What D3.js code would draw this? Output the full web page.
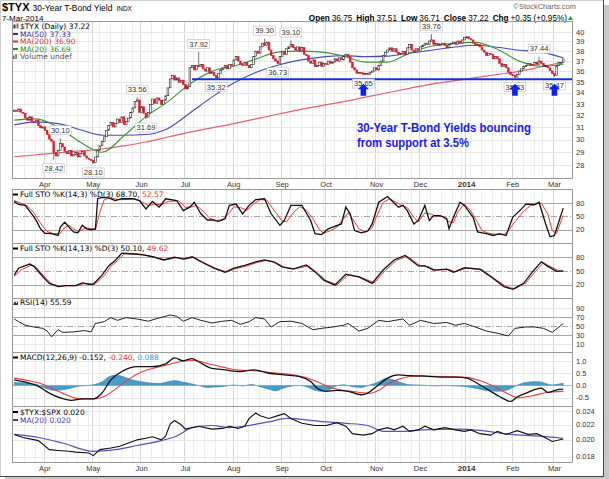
<!DOCTYPE html>
<html>
<head>
<meta charset="utf-8">
<script src="https://cdn.jsdelivr.net/npm/d3@7/dist/d3.min.js"></script>
<style>
body { margin: 0; background: #fff; }
svg { display: block; font-family: "Liberation Sans", Arial, sans-serif; }
.leg { font-family: "DejaVu Sans", Verdana, sans-serif; font-size: 7.5px; }
.tick { font-size: 7.5px; fill: #333; }
</style>
</head>
<body>
<svg id="chart" width="609" height="479"></svg>
<script>

// trading calendar (NYSE holidays skipped)
var holidays = ["2013-03-29", "2013-05-27", "2013-07-04", "2013-09-02", "2013-11-28",
                "2013-12-25", "2014-01-01", "2014-01-20", "2014-02-17"];

// $TYX daily closes, 11-Mar-2013 .. 7-Mar-2014
var closes = [
  32.45,32.35,32.55,32.27,32.17,31.78,31.59,31.88,31.50,31.41,
  31.59,31.13,30.95,31.03,30.75,30.39,30.03,29.86,28.97,28.71,
  29.15,29.67,29.41,29.06,28.88,29.15,28.71,28.80,28.97,28.63,
  28.88,29.06,28.71,28.54,28.45,28.37,28.20,28.63,29.15,29.50,
  29.86,30.22,30.75,31.13,31.41,31.03,31.32,31.69,31.41,31.88,
  31.22,31.50,31.78,32.26,32.65,33.20,33.35,32.26,32.75,32.17,
  31.85,32.26,32.95,33.43,33.04,33.53,33.33,32.95,33.33,33.73,
  34.45,35.28,35.59,35.17,35.38,34.97,35.17,34.76,34.35,34.55,
  36.35,36.57,36.14,36.57,36.46,36.68,36.24,36.03,36.35,35.81,
  35.92,35.59,35.38,35.81,36.14,36.35,36.57,36.24,36.68,36.57,
  37.12,37.45,37.01,36.68,36.57,36.90,36.57,36.35,36.68,37.45,
  38.00,37.79,38.44,38.82,38.59,38.93,38.11,37.56,37.23,37.01,
  36.79,37.45,38.00,37.68,38.25,38.44,38.70,38.36,38.11,38.44,
  38.00,38.36,37.68,37.56,37.01,36.79,37.12,36.46,36.57,36.90,
  36.46,36.79,36.68,37.01,36.79,36.90,37.23,37.01,37.34,37.12,
  37.45,37.68,37.45,36.90,36.35,36.14,35.81,35.90,35.85,35.72,
  35.80,35.70,35.92,36.03,36.35,36.14,36.57,37.01,37.56,37.90,
  38.11,38.34,38.00,38.25,37.90,37.68,37.79,38.00,37.68,38.34,
  38.70,38.11,38.00,38.25,38.11,38.44,38.59,38.82,38.70,39.05,
  39.16,38.70,38.82,38.59,38.70,38.82,38.59,38.34,38.70,38.82,
  38.93,38.70,39.05,38.82,39.16,39.40,39.50,39.28,39.16,38.82,
  38.59,38.70,38.44,38.11,37.90,37.56,37.79,37.68,37.23,37.45,
  37.23,36.79,36.46,36.68,36.35,35.92,35.70,35.60,35.45,35.70,
  36.03,36.24,36.46,36.57,36.79,36.57,36.68,36.90,36.68,37.01,
  36.79,36.46,36.57,36.35,36.05,35.80,35.62,36.55,36.85,36.87,
  37.22
];

// moving averages  [trading day, value]
var ma50 = [[0,31.2],[10,31.45],[20,31.3],[30,30.8],[40,30.35],[50,30.35],[60,30.4],[70,30.9],[80,32.2],
  [90,33.6],[100,34.9],[110,35.9],[120,36.6],[130,37.1],[140,37.4],[150,37.55],[160,37.45],[170,37.5],
  [180,37.8],[190,38.1],[200,38.4],[210,38.6],[220,38.4],[230,38.1],[240,37.9],[250,37.33]];
var ma200 = [[0,28.65],[10,28.8],[20,28.95],[30,29.1],[40,29.25],[50,29.5],[60,29.8],[70,30.2],[80,30.6],
  [90,30.95],[100,31.3],[110,31.7],[120,32.1],[130,32.5],[140,32.85],[150,33.2],[160,33.6],[170,34.0],
  [180,34.4],[190,34.8],[200,35.1],[210,35.4],[220,35.7],[230,36.0],[240,36.45],[250,36.9]];
var ma20 = [[0,31.6],[10,31.7],[20,31.0],[30,29.8],[40,29.0],[50,30.3],[60,31.9],[70,33.2],[80,34.8],
  [90,36.0],[100,36.5],[110,37.2],[120,37.9],[130,38.0],[140,37.9],[150,37.5],[160,36.9],[170,36.9],
  [180,37.8],[190,38.5],[200,38.8],[210,38.9],[220,38.2],[230,37.0],[240,36.5],[250,36.69]];

// labelled swing highs / lows  [day, value, side]
var pivots = [[18,28.42,"low"],[21,30.10,"high"],[36,28.10,"low"],[56,33.56,"high"],[60,31.69,"low"],
  [84,37.92,"high"],[92,35.32,"low"],[114,39.30,"high"],[120,36.73,"low"],[126,39.10,"high"],
  [159,35.65,"low"],[190,39.76,"high"],[228,35.33,"low"],[239,37.44,"high"],[246,35.47,"low"]];

var support = 35.25, supportFrom = 81;
var arrowDays = [159, 228, 246];

// Full STO (14,3)
var sto1K = [[0,84],[2,77],[5,75],[8,56],[10,41],[12,22],[14,12],[17,11],[20,7],[21,26],[23,37],[25,26],
  [27,15],[29,13],[31,30],[33,22],[35,20],[37,22],[38,90],[40,93],[43,92],[46,86],[49,90],[54,90],[57,86],
  [60,67],[63,84],[66,71],[69,90],[74,86],[77,63],[80,71],[82,82],[85,56],[88,42],[90,42],[93,39],[96,45],
  [98,75],[101,78],[104,56],[107,75],[110,88],[114,90],[117,56],[121,30],[123,41],[126,75],[131,75],
  [135,41],[137,11],[140,9],[143,22],[145,26],[149,33],[151,71],[153,56],[155,18],[158,13],[161,17],
  [163,33],[166,82],[170,95],[175,71],[177,75],[179,63],[182,33],[184,41],[187,75],[189,41],[191,52],
  [194,52],[197,45],[198,22],[200,48],[203,82],[205,75],[209,48],[211,15],[215,11],[218,7],[221,11],
  [224,7],[227,48],[231,67],[233,78],[237,77],[239,82],[242,33],[244,4],[246,7],[250,68.7]];
var sto1D = [[0,86],[3,80],[6,74],[9,58],[11,42],[13,28],[15,16],[18,11],[21,12],[23,25],[25,30],[27,22],
  [29,16],[31,20],[33,24],[35,22],[37,21],[39,60],[41,88],[44,92],[47,88],[50,88],[55,90],[58,84],[61,74],
  [64,78],[67,76],[70,84],[75,85],[78,70],[81,72],[83,75],[86,62],[89,46],[92,41],[95,42],[98,58],[100,72],
  [103,70],[106,64],[109,78],[112,88],[115,87],[118,66],[122,40],[124,38],[127,58],[130,72],[133,64],
  [136,45],[139,20],[141,12],[144,18],[147,26],[150,45],[152,58],[154,45],[157,22],[160,14],[163,24],
  [165,50],[168,82],[171,90],[176,76],[179,70],[182,48],[184,38],[187,58],[190,55],[192,50],[195,50],
  [198,38],[200,36],[202,60],[205,78],[208,62],[211,36],[213,18],[216,12],[220,9],[223,9],[225,18],
  [228,38],[232,62],[235,74],[238,78],[240,80],[243,55],[245,18],[247,12],[250,52.57]];

// Full STO (14,13)
var sto2K = [[0,41],[2,56],[7,65],[9,60],[13,38],[16,23],[20,16],[23,18],[28,18],[31,24],[34,21],[36,21],
  [40,41],[43,61],[46,73],[49,89],[55,87],[59,85],[63,81],[68,74],[73,80],[77,76],[81,81],[85,70],[91,56],
  [96,47],[100,56],[105,62],[110,70],[114,74],[118,70],[122,59],[127,54],[133,63],[137,48],[141,30],
  [146,19],[151,43],[157,37],[163,23],[168,52],[173,74],[178,84],[184,61],[187,61],[191,52],[197,54],
  [200,47],[205,57],[212,54],[218,34],[223,16],[227,10],[232,23],[236,48],[240,70],[243,60],[247,49],[250,50.1]];
var sto2D = [[0,38],[3,52],[8,63],[10,58],[14,36],[17,22],[21,16],[24,18],[29,18],[32,23],[35,21],[37,22],
  [41,40],[44,60],[47,72],[50,87],[56,87],[60,84],[64,80],[69,74],[74,79],[78,76],[82,80],[86,69],[92,55],
  [97,48],[101,55],[106,61],[111,69],[115,73],[119,69],[123,58],[128,55],[134,61],[138,46],[142,29],
  [147,20],[152,41],[158,36],[164,24],[169,51],[174,73],[179,82],[185,61],[188,60],[192,52],[198,53],
  [201,48],[206,56],[213,53],[219,32],[224,16],[228,11],[233,24],[237,47],[241,68],[244,60],[248,50],[250,49.62]];

// RSI(14)
var rsi = [[0,66],[2,60],[5,52],[9,48],[13,45],[15,39],[17,26],[20,42],[22,36],[27,37],[32,40],[35,37],
  [37,56],[41,60],[44,69],[47,63],[51,69],[56,66],[61,61],[65,67],[71,75],[74,72],[77,61],[81,69],[85,63],
  [90,57],[95,61],[99,63],[103,54],[107,60],[110,69],[114,66],[117,48],[121,60],[126,61],[131,56],[136,42],
  [140,45],[145,48],[150,52],[152,56],[157,39],[161,45],[166,63],[170,60],[177,66],[180,52],[185,63],
  [191,56],[197,58],[201,52],[205,56],[210,48],[215,39],[220,34],[225,28],[228,45],[233,48],[237,48],
  [241,45],[245,36],[250,55.59]];

// MACD(12,26,9)
var macd = [[0,0.23],[4,0.16],[11,-0.04],[16,-0.31],[21,-0.51],[26,-0.61],[31,-0.55],[36,-0.55],[40,-0.31],
  [44,0.23],[49,0.57],[56,0.77],[63,0.77],[69,0.88],[73,1.13],[77,1.01],[81,1.1],[84,0.97],[90,0.7],
  [96,0.64],[103,0.57],[109,0.64],[116,0.5],[123,0.43],[130,0.36],[135,0.16],[138,-0.11],[142,-0.24],
  [147,-0.2],[152,-0.24],[158,-0.38],[161,-0.31],[165,-0.04],[170,0.3],[175,0.43],[180,0.4],[186,0.39],
  [191,0.36],[196,0.34],[202,0.34],[206,0.3],[212,0.03],[217,-0.24],[221,-0.45],[226,-0.65],[229,-0.47],
  [234,-0.28],[240,-0.11],[243,-0.28],[247,-0.18],[250,-0.152]];
var macdSignal = [[0,0.30],[5,0.22],[12,0.08],[18,-0.15],[24,-0.40],[30,-0.55],[36,-0.55],[41,-0.45],
  [46,-0.15],[52,0.25],[58,0.55],[64,0.72],[70,0.85],[76,0.98],[82,1.02],[88,0.9],[95,0.75],[102,0.63],
  [110,0.6],[118,0.52],[126,0.45],[132,0.35],[138,0.15],[144,-0.08],[150,-0.2],[156,-0.27],[162,-0.32],
  [166,-0.2],[170,0.05],[176,0.28],[182,0.38],[190,0.38],[198,0.36],[206,0.33],[212,0.2],[218,-0.02],
  [224,-0.3],[230,-0.5],[236,-0.42],[242,-0.3],[250,-0.24]];
var macdHist = [[0,0.12],[5,0.1],[10,0.05],[14,-0.1],[18,-0.2],[22,-0.18],[26,-0.1],[30,-0.02],[34,0.0],
  [37,0.05],[40,0.15],[43,0.35],[46,0.42],[50,0.35],[54,0.22],[58,0.15],[62,0.1],[66,0.08],[70,0.15],
  [73,0.2],[76,0.15],[80,0.08],[84,0.0],[88,-0.08],[92,-0.06],[96,-0.03],[100,0.02],[104,-0.02],[108,0.04],
  [112,-0.05],[116,-0.15],[119,-0.22],[122,-0.12],[126,-0.03],[130,0.0],[134,-0.08],[137,-0.2],[140,-0.24],
  [143,-0.2],[146,-0.05],[150,0.03],[154,-0.05],[158,-0.08],[162,0.02],[166,0.15],[169,0.28],[172,0.25],
  [176,0.12],[180,0.03],[184,0.02],[188,0.0],[192,-0.02],[196,0.0],[200,-0.02],[204,-0.03],[208,-0.08],
  [212,-0.15],[216,-0.22],[220,-0.24],[224,-0.2],[227,-0.08],[230,0.05],[233,0.12],[236,0.15],[239,0.15],
  [242,0.08],[245,0.02],[248,0.06],[250,0.088]];

// $TYX:$SPX ratio and its MA(20)
var ratio = [[0,0.0207],[4,0.0203],[11,0.0199],[16,0.0188],[20,0.0187],[25,0.0186],[28,0.0185],[34,0.0184],
  [36,0.0181],[39,0.0188],[44,0.0190],[48,0.0192],[53,0.0197],[56,0.0200],[60,0.0202],[63,0.0204],
  [67,0.0200],[69,0.0205],[71,0.0221],[73,0.0226],[76,0.0220],[78,0.0214],[84,0.0218],[90,0.0214],
  [95,0.0215],[98,0.0218],[102,0.0215],[105,0.0218],[107,0.0229],[110,0.0237],[112,0.0233],[116,0.0229],
  [119,0.0232],[123,0.0236],[126,0.0229],[131,0.0222],[137,0.0219],[142,0.0219],[147,0.0223],[151,0.0218],
  [154,0.0208],[159,0.0206],[163,0.0208],[166,0.0213],[170,0.0216],[173,0.0213],[177,0.0218],[180,0.0211],
  [184,0.0213],[187,0.0218],[191,0.0213],[196,0.0216],[201,0.0213],[205,0.0211],[208,0.0213],[212,0.0208],
  [217,0.0206],[220,0.0211],[224,0.0207],[229,0.0212],[234,0.0207],[238,0.0208],[241,0.0204],[245,0.0198],
  [250,0.0201]];
var ratioMA = [[0,0.0207],[11,0.0203],[22,0.0196],[36,0.0186],[46,0.0188],[56,0.0193],[67,0.0199],
  [74,0.0205],[81,0.0216],[90,0.0219],[98,0.0216],[105,0.0218],[112,0.0222],[116,0.0224],[124,0.0229],
  [133,0.0227],[142,0.0224],[151,0.0222],[161,0.0219],[168,0.0211],[177,0.0211],[186,0.0213],[203,0.0214],
  [213,0.0212],[226,0.0207],[238,0.0205],[250,0.0202]];

// tick labels
var mainTicks = [28,29,30,31,32,33,34,35,36,37,38,39,40];
var stoTicks = [80,50,20];
var rsiTicks = [90,70,50,30,10];
var macdTicks = [1.0,0.5,0.0,-0.5];
var ratioTicks = [0.024,0.022,0.020,0.018];
var monthNames = ["Jan","Feb","Mar","Apr","May","Jun","Jul","Aug","Sep","Oct","Nov","Dec"];

// ---------------------------------------------------------------

var svg = d3.select("#chart");
var fmt = d3.timeFormat("%Y-%m-%d");

var days = [];
for (var d = new Date(2013, 2, 11); d <= new Date(2014, 2, 7); d.setDate(d.getDate() + 1)) {
  var wd = d.getDay();
  if (wd > 0 && wd < 6 && holidays.indexOf(fmt(d)) < 0) days.push(new Date(d));
}

var L = 12, R = 572;
var x = d3.scaleLinear().domain([-1, 254]).range([L, R]);

var monthStarts = [], weekStarts = [];
days.forEach(function(dt, i) {
  if (i == 0) return;
  if (dt.getMonth() != days[i - 1].getMonth()) monthStarts.push(i);
  else if (dt.getDay() < days[i - 1].getDay()) weekStarts.push(i);
});

// frame + shadow
svg.append("rect").attr("x", 0).attr("y", 0).attr("width", 609).attr("height", 479).attr("fill", "#fff");
svg.append("rect").attr("x", 604).attr("y", 5).attr("width", 5).attr("height", 474).attr("fill", "#c8c8c8");
svg.append("rect").attr("x", 5).attr("y", 477).attr("width", 604).attr("height", 2).attr("fill", "#c8c8c8");
svg.append("rect").attr("x", 0.5).attr("y", 0.5).attr("width", 603).attr("height", 476)
  .attr("fill", "none").attr("stroke", "#d0d0d0");
svg.append("line").attr("x1", 603.5).attr("x2", 603.5).attr("y1", 0).attr("y2", 477).attr("stroke", "#444");
svg.append("line").attr("x1", 0).attr("x2", 604).attr("y1", 476.5).attr("y2", 476.5).attr("stroke", "#444");

// header
var t1 = svg.append("text").attr("x", 2).attr("y", 10.5);
t1.append("tspan").attr("font-weight", "bold").attr("font-size", 11).text("$TYX");
t1.append("tspan").attr("font-size", 8.5).attr("dx", 3).text("30-Year T-Bond Yield");
t1.append("tspan").attr("font-size", 6.5).attr("dx", 4).text("INDX");
svg.append("text").attr("x", 2).attr("y", 20.5).attr("font-size", 8).text("7-Mar-2014");
svg.append("text").attr("x", 576).attr("y", 9).attr("text-anchor", "end").attr("font-size", 7.5)
  .attr("fill", "#666").text("\u00a9StockCharts.com");

var ohlc = [["Open", "36.75"], ["High", "37.51"], ["Low", "36.71"], ["Close", "37.22"], ["Chg", "+0.35 (+0.95%)"]];
var t2 = svg.append("text").attr("x", 567).attr("y", 20.5).attr("text-anchor", "end").attr("font-size", 8.2);
ohlc.forEach(function(p, k) {
  t2.append("tspan").attr("font-weight", "bold").attr("dx", k ? 4 : 0).text(p[0]);
  t2.append("tspan").attr("dx", 2).text(p[1]);
});
svg.append("path").attr("d", "M568,20 L570.5,16 L573,20 Z").attr("fill", "#2a9a2a");

// panels
function drawPanel(top, bottom) {
  var g = svg.append("g");
  g.selectAll(".wk").data(weekStarts).enter().append("line")
    .attr("x1", function(i) { return Math.round(x(i - 0.5)) + 0.5; })
    .attr("x2", function(i) { return Math.round(x(i - 0.5)) + 0.5; })
    .attr("y1", top).attr("y2", bottom).attr("stroke", "#ededed");
  g.selectAll(".mo").data(monthStarts).enter().append("line")
    .attr("x1", function(i) { return Math.round(x(i - 0.5)) + 0.5; })
    .attr("x2", function(i) { return Math.round(x(i - 0.5)) + 0.5; })
    .attr("y1", top).attr("y2", bottom).attr("stroke", "#d6d6d6");
  return g;
}
function hgrid(g, ys, col, dash) {
  ys.forEach(function(yy) {
    g.append("line").attr("x1", L).attr("x2", R).attr("y1", Math.round(yy) + 0.5).attr("y2", Math.round(yy) + 0.5)
      .attr("stroke", col).attr("stroke-dasharray", dash || null);
  });
}
function tickLabels(vals, y, f) {
  svg.append("g").selectAll("text").data(vals).enter().append("text")
    .attr("class", "tick").attr("x", 576).attr("y", function(v) { return y(v); }).attr("dy", "0.35em")
    .text(f);
}
function border(top, bottom) {
  svg.append("rect").attr("x", L + 0.5).attr("y", top + 0.5).attr("width", R - L).attr("height", bottom - top)
    .attr("fill", "none").attr("stroke", "#999");
}
function monthLabels(yy) {
  svg.append("g").selectAll("text").data(monthStarts).enter().append("text")
    .attr("class", "tick").attr("x", function(i) { return x(i); }).attr("y", yy).attr("text-anchor", "middle")
    .attr("font-weight", function(i) { return days[i].getMonth() == 0 ? "bold" : null; })
    .style("font-size", function(i) { return days[i].getMonth() == 0 ? "8px" : null; })
    .text(function(i) { var m = days[i].getMonth(); return m == 0 ? days[i].getFullYear() : monthNames[m]; });
}
function lineOf(y, curve) {
  return d3.line().x(function(p) { return x(p[0]); }).y(function(p) { return y(p[1]); }).curve(curve || d3.curveLinear);
}
function legendDash(xx, yy, col) {
  svg.append("rect").attr("x", xx).attr("y", yy - 1).attr("width", 5).attr("height", 2).attr("fill", col);
}

// ---- main price panel
var yMain = d3.scaleLog().domain([28, 40]).range([165.3, 32]);
var gMain = drawPanel(21, 178);
hgrid(gMain, mainTicks.map(yMain), "#e6e6e6");
tickLabels(mainTicks, yMain, function(v) { return v; });

gMain.append("path").datum(ma200).attr("d", lineOf(yMain, d3.curveMonotoneX))
  .attr("fill", "none").attr("stroke", "#e8606a").attr("stroke-width", 1.2);
gMain.append("path").datum(ma50).attr("d", lineOf(yMain, d3.curveMonotoneX))
  .attr("fill", "none").attr("stroke", "#4a4ab8").attr("stroke-width", 1.1);
gMain.append("path").datum(ma20).attr("d", lineOf(yMain, d3.curveMonotoneX))
  .attr("fill", "none").attr("stroke", "#3a9a3a").attr("stroke-width", 1.1);

// support line
gMain.append("line").attr("x1", x(supportFrom)).attr("x2", R).attr("y1", yMain(support)).attr("y2", yMain(support))
  .attr("stroke", "#1030e0").attr("stroke-width", 2);

// pivot wicks
gMain.selectAll(".wick").data(pivots).enter().append("line")
  .attr("x1", function(p) { return x(p[0]); }).attr("x2", function(p) { return x(p[0]); })
  .attr("y1", function(p) { return yMain(closes[p[0]]); }).attr("y2", function(p) { return yMain(p[1]); })
  .attr("stroke", "#555").attr("stroke-width", 0.8);

// candles (open = prior close)
var candles = closes.map(function(c, i) { return { i: i, o: i ? closes[i - 1] : c, c: c }; });
gMain.selectAll(".cdl").data(candles).enter().append("rect")
  .attr("x", function(d) { return x(d.i) - 0.85; })
  .attr("y", function(d) { return yMain(Math.max(d.o, d.c)); })
  .attr("width", 1.7)
  .attr("height", function(d) { return Math.max(1.2, Math.abs(yMain(d.o) - yMain(d.c))); })
  .attr("fill", function(d) { return d.c < d.o ? "#e3172b" : "#fff"; })
  .attr("stroke", function(d) { return d.c < d.o ? "#e3172b" : "#222"; })
  .attr("stroke-width", 0.6);

// pivot labels
pivots.forEach(function(p) {
  var cx = x(p[0]);
  var cy = yMain(p[1]) + (p[2] == "high" ? -8 : 8.5);
  var g = gMain.append("g");
  var tx = g.append("text").attr("x", cx).attr("y", cy).attr("dy", "0.35em").attr("text-anchor", "middle")
    .attr("font-size", 7.5).attr("fill", "#333").text(p[1].toFixed(2));
  var w = tx.node().getComputedTextLength() + 3;
  g.insert("rect", "text").attr("x", cx - w / 2).attr("y", cy - 4.5).attr("width", w).attr("height", 9)
    .attr("fill", "#fff").attr("stroke", "#bbb").attr("stroke-width", 0.6);
});

// arrows
arrowDays.forEach(function(i) {
  var cx = x(i), ty = yMain(support) + 4.5;
  gMain.append("path")
    .attr("d", "M" + cx + "," + ty + " l5.5,5.5 h-2.7 v6.5 h-5.6 v-6.5 h-2.7 Z")
    .attr("fill", "#0b22f0");
});

// annotation
svg.append("text").attr("x", 357).attr("y", 132).attr("font-size", 12.5).attr("font-weight", "bold")
  .attr("fill", "#1a1af0").attr("textLength", 174).attr("lengthAdjust", "spacingAndGlyphs")
  .text("30-Year T-Bond Yields bouncing");
svg.append("text").attr("x", 357).attr("y", 146.5).attr("font-size", 12.5).attr("font-weight", "bold")
  .attr("fill", "#1a1af0").attr("textLength", 112).attr("lengthAdjust", "spacingAndGlyphs")
  .text("from support at 3.5%");

border(21, 178);
monthLabels(187);

// main legend
var lg = svg.append("g").attr("class", "leg");
lg.append("rect").attr("x", 13.5).attr("y", 24.5).attr("width", 2).attr("height", 4).attr("fill", "#333");
lg.append("rect").attr("x", 16.5).attr("y", 23.5).attr("width", 2).attr("height", 5).attr("fill", "#777");
lg.append("text").attr("x", 20).attr("y", 29).text("$TYX (Daily) 37.22");
legendDash(13, 34, "#33339a");
lg.append("text").attr("x", 20).attr("y", 36.8).attr("fill", "#33339a").text("MA(50) 37.33");
legendDash(13, 41.5, "#d93040");
lg.append("text").attr("x", 20).attr("y", 44.3).attr("fill", "#d93040").text("MA(200) 36.90");
legendDash(13, 49, "#2a8a2a");
lg.append("text").attr("x", 20).attr("y", 51.8).attr("fill", "#2a8a2a").text("MA(20) 36.69");
lg.append("rect").attr("x", 13).attr("y", 55.5).attr("width", 1.5).attr("height", 3.5).attr("fill", "#666");
lg.append("rect").attr("x", 15.3).attr("y", 54).attr("width", 1.5).attr("height", 5).attr("fill", "#666");
lg.append("text").attr("x", 20).attr("y", 59.3).attr("fill", "#555").text("Volume undef");

// ---- stochastic panels
function stoPanel(top, bottom, kData, dData, y, label, kVal, dVal) {
  var g = drawPanel(top, bottom);
  hgrid(g, [y(80), y(20)], "#a8a8a8");
  hgrid(g, [y(50)], "#a8a8a8", "6,2,1,2");
  tickLabels(stoTicks, y, function(v) { return v; });
  g.append("path").datum(dData).attr("d", lineOf(y)).attr("fill", "none").attr("stroke", "#f03a3a").attr("stroke-width", 1);
  g.append("path").datum(kData).attr("d", lineOf(y)).attr("fill", "none").attr("stroke", "#111").attr("stroke-width", 1.3);
  border(top, bottom);
  legendDash(13, top + 5.5, "#000");
  var t = svg.append("text").attr("class", "leg").attr("x", 20).attr("y", top + 8.3);
  t.append("tspan").text(label + " " + kVal + ", ");
  t.append("tspan").attr("fill", "#e83030").text(dVal);
}
var ySto1 = d3.scaleLinear().domain([-10, 112]).range([243, 189]);
stoPanel(189, 243, sto1K, sto1D, ySto1, "Full STO %K(14,3) %D(3)", "68.70", "52.57");
var ySto2 = d3.scaleLinear().domain([-9, 111]).range([298, 243]);
stoPanel(243, 298, sto2K, sto2D, ySto2, "Full STO %K(14,13) %D(3)", "50.10", "49.62");

// ---- RSI
var yRsi = d3.scaleLinear().domain([-8, 113]).range([352, 298]);
var gR = drawPanel(298, 352);
hgrid(gR, [yRsi(90), yRsi(10)], "#e6e6e6");
hgrid(gR, [yRsi(70), yRsi(30)], "#a8a8a8");
hgrid(gR, [yRsi(50)], "#a8a8a8", "6,2,1,2");
tickLabels(rsiTicks, yRsi, function(v) { return v; });
gR.append("path").datum(rsi).attr("d", lineOf(yRsi)).attr("fill", "none").attr("stroke", "#222").attr("stroke-width", 1);
border(298, 352);
svg.append("path").attr("d", "M13,305 L15,301 L16.5,303.5 L18,300.5 L18,305 Z").attr("fill", "#333");
svg.append("text").attr("class", "leg").attr("x", 20).attr("y", 305).text("RSI(14) 55.59");

// ---- MACD
var yMacd = d3.scaleLinear().domain([-0.84, 1.37]).range([406, 352]);
var gM = drawPanel(352, 406);
hgrid(gM, macdTicks.map(yMacd), "#e6e6e6");
tickLabels(macdTicks, yMacd, function(v) { return v.toFixed(1); });
gM.append("path").datum(macdHist)
  .attr("d", d3.area().x(function(p) { return x(p[0]); }).y0(yMacd(0)).y1(function(p) { return yMacd(p[1]); }).curve(d3.curveMonotoneX))
  .attr("fill", "#4a9cc8").attr("stroke", "#2a7eae").attr("stroke-width", 0.6);
gM.append("line").attr("x1", L).attr("x2", R).attr("y1", yMacd(0)).attr("y2", yMacd(0)).attr("stroke", "#7bb8d8").attr("stroke-width", 0.8);
gM.append("path").datum(macdSignal).attr("d", lineOf(yMacd, d3.curveMonotoneX)).attr("fill", "none").attr("stroke", "#f03a3a").attr("stroke-width", 1.1);
gM.append("path").datum(macd).attr("d", lineOf(yMacd, d3.curveMonotoneX)).attr("fill", "none").attr("stroke", "#111").attr("stroke-width", 1.3);
border(352, 406);
legendDash(13, 357.5, "#000");
var tm = svg.append("text").attr("class", "leg").attr("x", 20).attr("y", 360.3);
tm.append("tspan").text("MACD(12,26,9) -0.152, ");
tm.append("tspan").attr("fill", "#e83030").text("-0.240, ");
tm.append("tspan").attr("fill", "#3a9ad0").text("0.088");

// ---- ratio
var yRat = d3.scaleLog().domain([0.018, 0.024]).range([456.5, 411]);
var gQ = drawPanel(406, 462);
hgrid(gQ, ratioTicks.map(yRat), "#e6e6e6");
tickLabels(ratioTicks, yRat, function(v) { return v.toFixed(3); });
gQ.append("path").datum(ratioMA).attr("d", lineOf(yRat, d3.curveMonotoneX)).attr("fill", "none").attr("stroke", "#5252c0").attr("stroke-width", 1.2);
gQ.append("path").datum(ratio).attr("d", lineOf(yRat)).attr("fill", "none").attr("stroke", "#111").attr("stroke-width", 1.1);
border(406, 462);
legendDash(13, 412, "#000");
svg.append("text").attr("class", "leg").attr("x", 20).attr("y", 414.8).text("$TYX:$SPX 0.020");
legendDash(13, 420, "#3a3ab0");
svg.append("text").attr("class", "leg").attr("x", 20).attr("y", 422.8).attr("fill", "#3a3ab0").text("MA(20) 0.020");
monthLabels(470.5);

</script>
</body>
</html>
